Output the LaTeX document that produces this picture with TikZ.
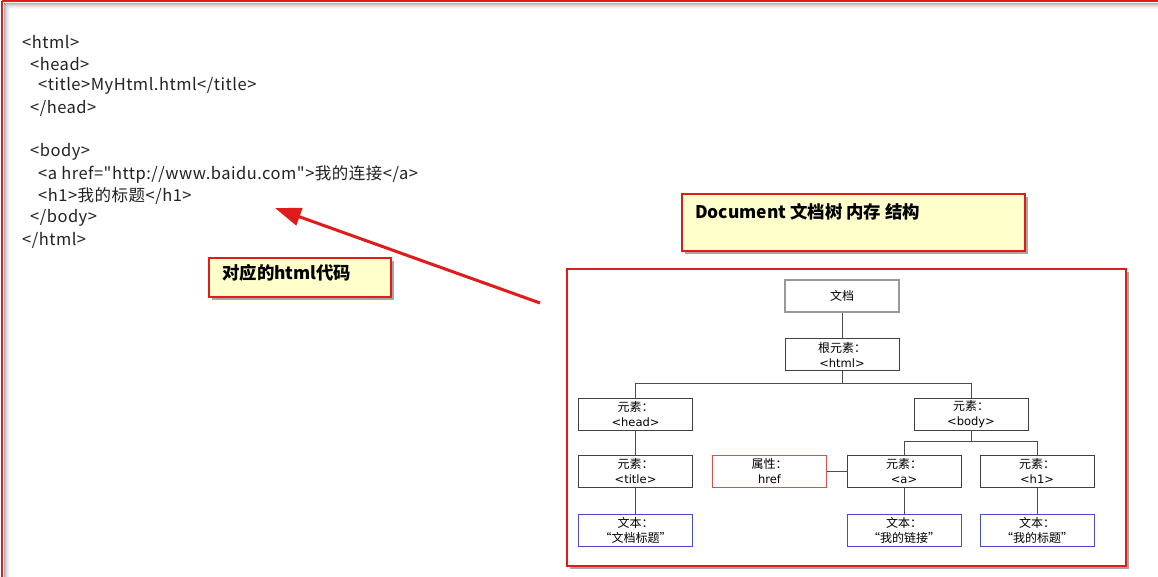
\documentclass[tikz,border=0pt]{standalone}
\usepackage{fontspec}
\setmainfont{Noto Sans CJK SC}[Ligatures=TeXOff]
\newfontfamily\latinfont{DejaVu Sans}[Ligatures=TeXOff]
\newfontfamily\codefont{Noto Sans CJK SC}[Ligatures=TeXOff, LetterSpace=3]
\usetikzlibrary{shadows,arrows.meta}
\definecolor{fred}{HTML}{E01B1B}
\definecolor{fyellow}{HTML}{FFFFCC}
\definecolor{codecol}{HTML}{222222}
\definecolor{tblue}{HTML}{4A4AD0}
\definecolor{tgray}{HTML}{999999}
\newcommand{\lt}[1]{{\latinfont\fontsize{11.5}{14.5}\selectfont #1}}
\tikzset{
  x=1pt, y=-1pt,
  codeline/.style={anchor=west, inner sep=0pt, text=codecol, font=\codefont\fontsize{16.5}{18}\selectfont},
  notebox/.style={draw=fred, line width=1.6pt, fill=fyellow, inner sep=0pt,
    drop shadow={shadow xshift=3pt, shadow yshift=-3pt, fill=black, opacity=0.35}},
  notetext/.style={anchor=west, inner sep=0pt, font=\fontsize{17.4}{19}\selectfont\bfseries},
  tbox/.style={draw=black!75, line width=0.7pt, fill=white, minimum width=114pt, minimum height=32pt,
    inner sep=0pt, align=center, font=\fontsize{12}{15}\selectfont},
  tline/.style={draw=black!70, line width=0.7pt},
}
\begin{document}
\begin{tikzpicture}
\useasboundingbox (0,0) rectangle (1158,576);
\fill[white] (0,0) rectangle (1158,576);
% outer frame with inner shading
\foreach \i/\o in {1/0.30,2/0.22,3/0.15,4/0.10,5/0.06,6/0.03}{
  \draw[black, opacity=\o, line width=1pt] (3+\i,2+\i) -- (1170,2+\i);
  \draw[black, opacity=\o, line width=1pt] (3+\i,2+\i) -- (3+\i,590);
}
\draw[fred, line width=2pt] (2,1) -- (1170,1);
\draw[fred, line width=2pt] (2,1) -- (2,590);

% code
\node[codeline] (l1) at (22,42) {<html>};
\node[codeline] (l2) at (30,64) {<head>};
\node[codeline] (l3) at (38,86) {<title>MyHtml.html</title>};
\node[codeline] (l4) at (30,108) {</head>};
\node[codeline] (l5) at (30,152) {<body>};
\node[codeline] (l6) at (38,174) {<a href="http://www.baidu.com">我的连接</a>};
\node[codeline] (l7) at (38,196) {<h1>我的标题</h1>};
\node[codeline] (l8) at (30,218) {</body>};
\node[codeline] (l9) at (22,240) {</html>};

% label box
\node[notebox, minimum width=182pt, minimum height=39pt, anchor=north west] (lbl) at (208,257) {};
\node[notetext] (lbltxt) at (222,273) {对应的html代码};

% document box
\node[notebox, minimum width=343pt, minimum height=57pt, anchor=north west] (doc) at (681,193) {};
\node[notetext] (doctxt) at (695,212) {Document 文档树 内存 结构};

% tree frame
\node[draw=fred, line width=1.8pt, fill=white, minimum width=559pt, minimum height=297pt, anchor=north west, inner sep=0pt,
  drop shadow={shadow xshift=3pt, shadow yshift=-3pt, fill=black, opacity=0.35}] (frame) at (566,268) {};

% arrow
\coordinate (atail) at (540,303);
\coordinate (ahead) at (275,208);
\draw[fred, line width=3pt, -{Triangle[length=26pt,width=18pt]}] (atail) -- (ahead);

% tree nodes
\node[tbox, draw=tgray, line width=1.4pt] (wd) at (842,296) {文档};
\node[tbox] (root) at (842,354.5) {根元素：\\\lt{<html>}};
\node[tbox] (head) at (635.5,414) {元素：\\\lt{<head>}};
\node[tbox] (body) at (971,414) {元素：\\\lt{<body>}};
\node[tbox] (title) at (635.5,471) {元素：\\\lt{<title>}};
\node[tbox, draw=fred!80] (href) at (769.5,471) {属性：\\\lt{href}};
\node[tbox] (a) at (904,471) {元素：\\\lt{<a>}};
\node[tbox] (h1) at (1037,471) {元素：\\\lt{<h1>}};
\node[tbox, draw=tblue] (t1) at (635.5,530) {文本：\\“文档标题”};
\node[tbox, draw=tblue] (t2) at (904,530) {文本：\\“我的链接”};
\node[tbox, draw=tblue] (t3) at (1037,530) {文本：\\“我的标题”};

% connectors
\draw[tline] (wd.south) -- (root.north);
\draw[tline] (root.south) -- ++(0,12) -| (head.north);
\draw[tline] (root.south) -- ++(0,12) -| (body.north);
\draw[tline] (head.south) -- (title.north);
\draw[tline] (title.south) -- (t1.north);
\draw[tline] (body.south) -- ++(0,11) -| (a.north);
\draw[tline] (body.south) -- ++(0,11) -| (h1.north);
\draw[tline] (href.east) -- (a.west);
\draw[tline] (a.south) -- (t2.north);
\draw[tline] (h1.south) -- (t3.north);
\end{tikzpicture}
\end{document}
